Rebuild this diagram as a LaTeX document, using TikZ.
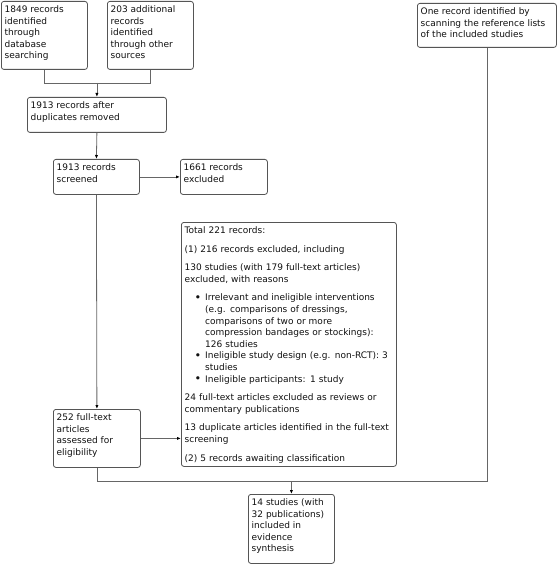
\documentclass[tikz,border=0pt]{standalone}
\usepackage{fontspec}
\setmainfont{DejaVu Sans}
\usetikzlibrary{arrows.meta,calc}
\definecolor{boxline}{HTML}{555555}
\definecolor{conline}{HTML}{666666}
\definecolor{txtcol}{HTML}{111111}
\tikzset{
  boxstyle/.style={draw=boxline, line width=0.8pt, rounded corners=2.5pt, inner sep=0pt, anchor=north west},
  txt/.style={inner sep=0pt, anchor=north west, align=left, text=txtcol, font=\fontsize{9}{11.6}\selectfont},
  con/.style={draw=conline, line width=0.8pt},
  arr/.style={con, -{Latex[length=4pt,width=3.2pt,black]}},
}
\newcommand{\bul}{\leavevmode\llap{\raisebox{-0.7pt}{\scalebox{1.25}{•}}\kern4.0pt}}
\begin{document}
\begin{tikzpicture}[x=1pt,y=-1pt]
\fill[white] (0,0) rectangle (557,564);
\useasboundingbox (0,0) rectangle (557,564);
% boxes
\node[boxstyle, minimum width=86pt, minimum height=68pt] (b1) at (1,1) {};
\node[boxstyle, minimum width=86pt, minimum height=68pt] (b2) at (107,1) {};
\node[boxstyle, minimum width=139pt, minimum height=35pt] (b3) at (27,97) {};
\node[boxstyle, minimum width=86pt, minimum height=35pt] (b4) at (53,159) {};
\node[boxstyle, minimum width=87pt, minimum height=35pt] (b5) at (180,159) {};
\node[boxstyle, minimum width=215pt, minimum height=244pt] (big) at (181,222) {};
\node[boxstyle, minimum width=87pt, minimum height=58pt] (b6) at (53,409) {};
\node[boxstyle, minimum width=139pt, minimum height=44pt] (rb) at (417,3) {};
\node[boxstyle, minimum width=86pt, minimum height=69pt] (fin) at (248,494) {};
% texts
\node[txt] (b1t) at ($(b1.north west)+(3.5,4.5)$) {1849 records\\identified\\through\\database\\searching};
\node[txt] (b2t) at ($(b2.north west)+(3.5,4.5)$) {203 additional\\records\\identified\\through other\\sources};
\node[txt] (b3t) at ($(b3.north west)+(3.5,4.5)$) {1913 records after\\duplicates removed};
\node[txt] (b4t) at ($(b4.north west)+(3.5,4.5)$) {1913 records\\screened};
\node[txt] (b5t) at ($(b5.north west)+(3.5,4.5)$) {1661 records\\excluded};
\node[txt] (b6t) at ($(b6.north west)+(3.5,4.5)$) {252 full-text\\articles\\assessed for\\eligibility};
\node[txt] (rbt) at ($(rb.north west)+(3.5,4.5)$) {One record identified by\\scanning the reference lists\\of the included studies};
\node[txt] (fint) at ($(fin.north west)+(3.5,4.5)$) {14 studies (with\\32 publications)\\included in\\evidence\\synthesis};
\node[txt, text width=210pt] (bigt) at ($(big.north west)+(3.5,4.5)$) {%
\parindent=0pt\parskip=7pt
Total 221 records:\par
(1) 216 records excluded, including\par
130 studies (with 179 full-text articles)\newline excluded, with reasons\par
{\leftskip=20.5pt
\bul Irrelevant and ineligible interventions\newline (e.g. comparisons of dressings,\newline comparisons of two or more\newline compression bandages or stockings):\newline 126 studies\parskip=0pt\par
\bul Ineligible study design (e.g. non-RCT): 3\newline studies\par
\bul Ineligible participants: 1 study\par}
\parskip=7pt
24 full-text articles excluded as reviews or\newline commentary publications\par
13 duplicate articles identified in the full-text\newline screening\par
(2) 5 records awaiting classification\par};
% connectors
\coordinate (j1) at (b1.south |- 0,83);
\coordinate (j2) at (b2.south |- 0,83);
\coordinate (j3) at (b3.north |- 0,83);
\draw[con] (b1.south) -- (j1) -- (j2) -- (b2.south);
\draw[arr] (j3) -- (b3.north);
\draw[arr] (b3.south) -- (b4.north);
\draw[arr] (b4.east) -- (b5.west);
\draw[arr] (b4.south) -- (b6.north);
\draw[arr] (b6.east) -- (big.west |- b6.east);
\coordinate (k1) at (b6.south |- 0,481);
\coordinate (k2) at (rb.south |- 0,481);
\coordinate (k3) at (fin.north |- 0,481);
\draw[con] (b6.south) -- (k1) -- (k2) -- (rb.south);
\draw[arr] (k3) -- (fin.north);
\end{tikzpicture}
\end{document}
